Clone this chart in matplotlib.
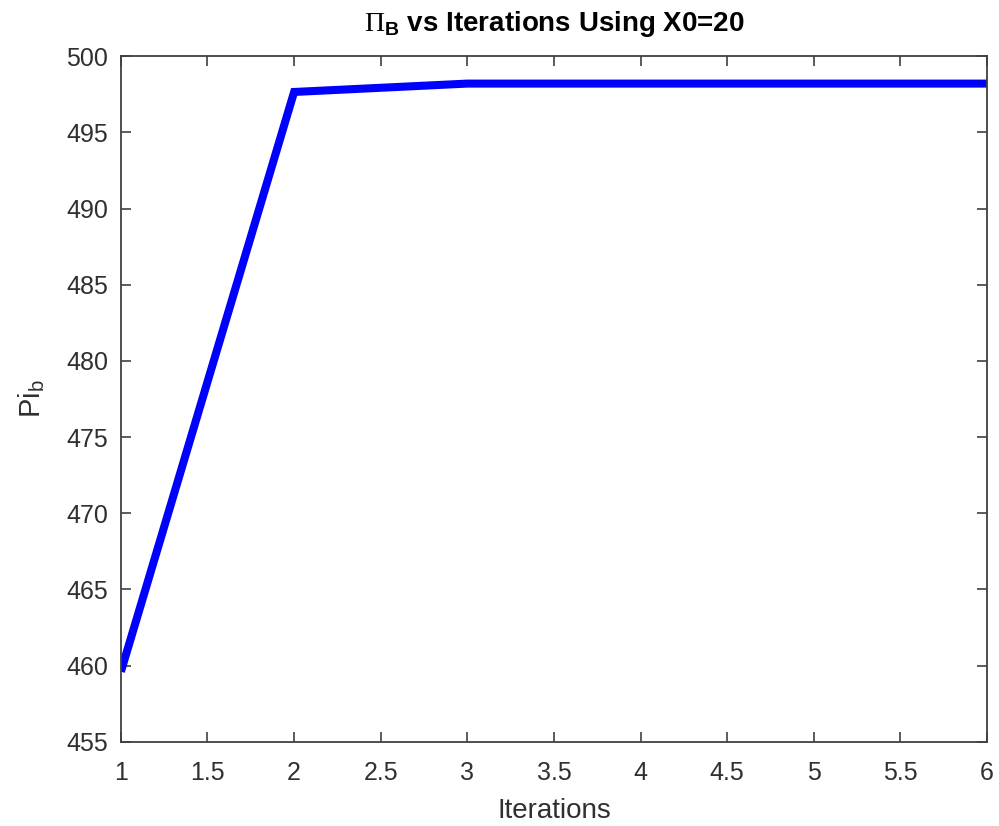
import matplotlib
matplotlib.use("Agg")
import matplotlib.pyplot as plt

# values
iterations = [1, 2, 3, 4, 5, 6]
pi_b = [459.6, 497.65, 498.2, 498.2, 498.2, 498.2]

x_ticks = [1, 1.5, 2, 2.5, 3, 3.5, 4, 4.5, 5, 5.5, 6]
x_tick_labels = ["1", "1.5", "2", "2.5", "3", "3.5", "4", "4.5", "5", "5.5", "6"]
y_ticks = [455, 460, 465, 470, 475, 480, 485, 490, 495, 500]

plt.rcParams['font.family'] = ['Liberation Sans', 'DejaVu Sans']
plt.rcParams['mathtext.fontset'] = 'custom'
plt.rcParams['mathtext.rm'] = 'Liberation Serif'
plt.rcParams['mathtext.sf'] = 'Liberation Sans'
plt.rcParams['mathtext.bf'] = 'Liberation Sans:bold'

gray = '#404040'
fig = plt.figure(figsize=(9.99, 8.26), dpi=100)
ax = fig.add_axes([0.121, 0.102, 0.867, 0.830])

ax.plot(iterations, pi_b, color='#0000ff', linewidth=5.8,
        solid_joinstyle='miter', solid_capstyle='butt')

ax.set_xlim(1, 6)
ax.set_ylim(455, 500)
ax.set_xticks(x_ticks)
ax.set_xticklabels(x_tick_labels)
ax.set_yticks(y_ticks)

for s in ax.spines.values():
    s.set_color(gray)
    s.set_linewidth(1.3)
ax.tick_params(direction='in', length=7, width=1.2, colors=gray,
               labelsize=18, top=True, right=True)
ax.tick_params(axis='x', pad=14)
ax.tick_params(axis='y', pad=9)
for lab in ax.get_xticklabels() + ax.get_yticklabels():
    lab.set_color('#303030')

ax.set_xlabel("Iterations", fontsize=20, color='#303030', labelpad=9)
ax.set_ylabel(r"Pi$_\mathregular{b}$", fontsize=21, color='#303030', labelpad=14)
ax.set_title(r"$\Pi_{\mathbf{B}}$ vs Iterations Using X0=20",
             fontsize=20, fontweight='bold', color='black', pad=18)

fig.savefig("out.png", dpi=100, facecolor='white')
